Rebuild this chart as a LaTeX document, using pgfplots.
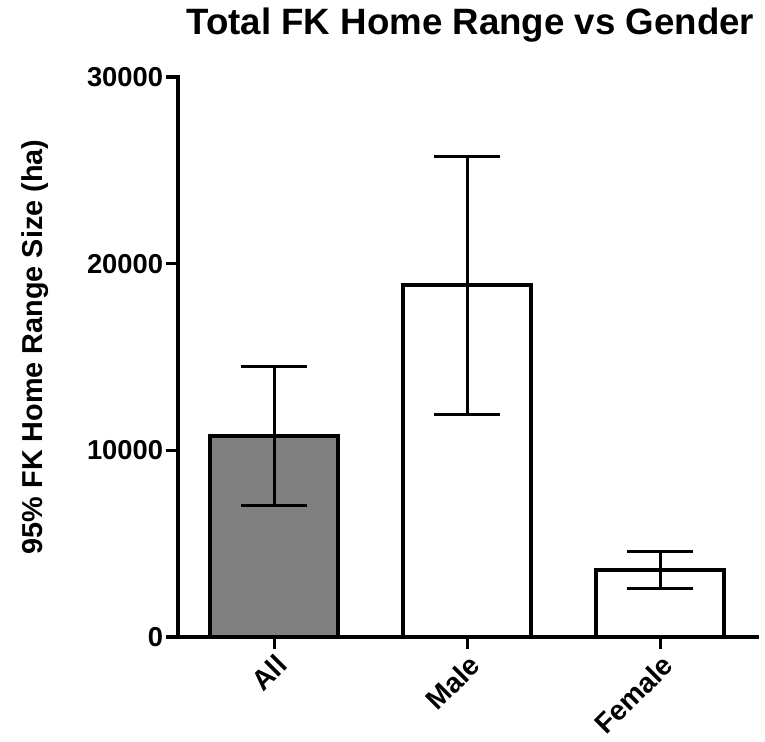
\documentclass[border=0pt]{standalone}
\usepackage{fontspec}
\setmainfont{Liberation Sans}
\usepackage{pgfplots}
\pgfplotsset{compat=1.18}
\definecolor{barGray}{RGB}{128,128,128}
\begin{document}
\begin{tikzpicture}
\path[use as bounding box, fill=white] (-133.5pt,-78.75pt) rectangle (440.25pt,477.75pt);
\begin{axis}[
  scale only axis,
  width=434.25pt, height=420pt,
  xmin=-0.5, xmax=2.5,
  ymin=0, ymax=30000,
  axis lines=left,
  axis line style={-, line width=3pt, line cap=rect},
  ytick={0,10000,20000,30000},
  xtick={0,1,2},
  xticklabels={All,Male,Female},
  scaled y ticks=false,
  tick align=outside,
  major tick length=9pt,
  every tick/.style={black, line width=2.6pt},
  /pgf/number format/assume math mode=true,
  yticklabel style={/pgf/number format/1000 sep={}, font=\bfseries\fontsize{20.5}{21}\selectfont, inner sep=2pt},
  xticklabel style={rotate=45, anchor=north east, font=\bfseries\fontsize{21}{22}\selectfont, inner sep=2pt},
  ylabel={95\% FK Home Range Size (ha)},
  ylabel style={at={(axis description cs:-0.247,0.518)}, anchor=center, font=\bfseries\fontsize{21.6}{22}\selectfont},
  title={Total FK Home Range vs Gender},
  title style={at={(axis description cs:0.505,1)}, anchor=base, yshift=25.5pt, font=\bfseries\fontsize{27.5}{28}\selectfont},
  ybar, bar width=96pt, bar shift=0pt,
]
\addplot[fill=barGray, draw=black, line width=3pt,
  error bars/.cd, y dir=both, y explicit,
  error bar style={line width=2.2pt, black},
  error mark options={line width=2.2pt, mark size=24.75pt, black, rotate=90}]
  coordinates {(0,10750) +- (0,3720)};
\addplot[fill=white, draw=black, line width=3pt,
  error bars/.cd, y dir=both, y explicit,
  error bar style={line width=2.2pt, black},
  error mark options={line width=2.2pt, mark size=24.75pt, black, rotate=90}]
  coordinates {(1,18850) +- (0,6910)};
\addplot[fill=white, draw=black, line width=3pt,
  error bars/.cd, y dir=both, y explicit,
  error bar style={line width=2.2pt, black},
  error mark options={line width=2.2pt, mark size=24.75pt, black, rotate=90}]
  coordinates {(2,3600) +- (0,990)};
\end{axis}
\end{tikzpicture}
\end{document}
